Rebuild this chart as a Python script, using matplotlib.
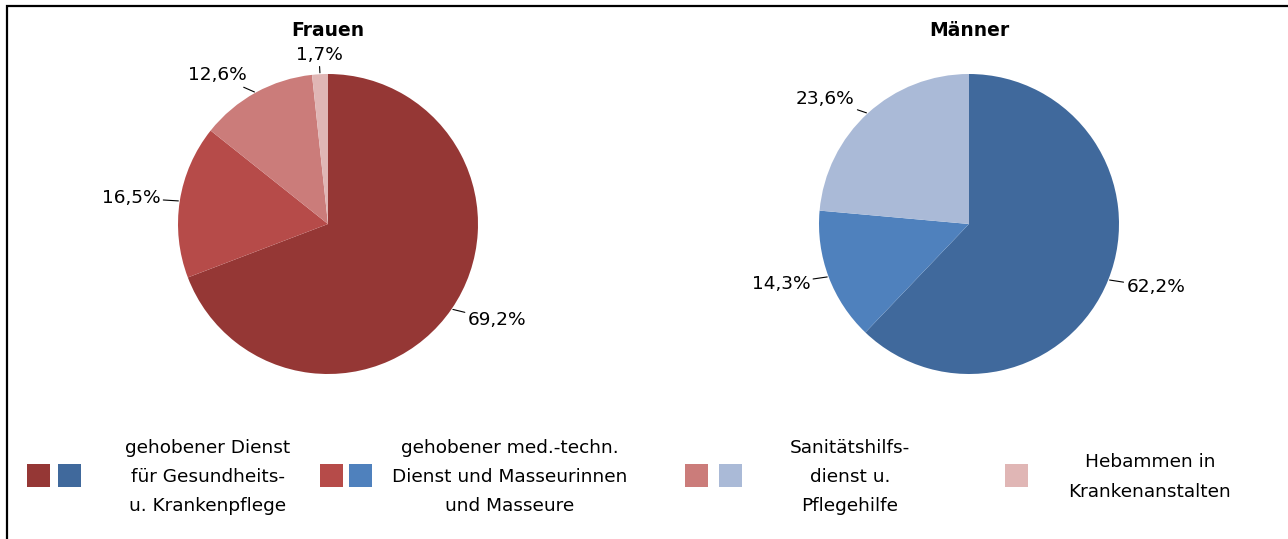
import numpy as np
import matplotlib
matplotlib.use("Agg")
import matplotlib.pyplot as plt
from matplotlib.patches import Rectangle

# ---- data ----
titles = ["Frauen", "Männer"]
frauen_values = [69.2, 16.5, 12.6, 1.7]
maenner_values = [62.2, 14.3, 23.6]
frauen_colors = ["#953735", "#B64B49", "#CB7C7A", "#E0B6B5"]
maenner_colors = ["#40699C", "#4F81BD", "#AABAD7"]
legend_labels = [
    "gehobener Dienst\nfür Gesundheits-\nu. Krankenpflege",
    "gehobener med.-techn.\nDienst und Masseurinnen\nund Masseure",
    "Sanitätshilfs-\ndienst u.\nPflegehilfe",
    "Hebammen in\nKrankenanstalten",
]

W, H = 1288, 539
fig = plt.figure(figsize=(W / 100, H / 100), dpi=100)
fig.patch.set_facecolor("white")

label_font = dict(family=["DejaVu Sans"], fontsize=13.3)
legend_font = dict(family=["DejaVu Sans"], fontsize=13.3)


def make_pie(cx, cy, r, values, colors, title):
    ext = 1.6
    ax = fig.add_axes([(cx - r * ext) / W, 1 - (cy + r * ext) / H, 2 * r * ext / W, 2 * r * ext / H])
    wedges, _ = ax.pie(values, colors=colors, startangle=90, counterclock=False, radius=1,
                       wedgeprops=dict(linewidth=0))
    ax.set_xlim(-ext, ext)
    ax.set_ylim(-ext, ext)
    ax.set_aspect("equal")
    ax.axis("off")
    for w, v in zip(wedges, values):
        ang = np.deg2rad((w.theta1 + w.theta2) / 2)
        c, s = np.cos(ang), np.sin(ang)
        rt = 1.13
        if abs(c) < 0.2:
            ha = "center"
        elif c > 0:
            ha = "left"
        else:
            ha = "right"
        ax.annotate(f"{v:.1f}%".replace(".", ","), xy=(c, s), xytext=(rt * c, rt * s),
                    ha=ha, va="center", annotation_clip=False,
                    arrowprops=dict(arrowstyle="-", color="black", lw=0.8, shrinkA=0, shrinkB=1),
                    **label_font)
    fig.text(cx / W, 1 - 30 / H, title, ha="center", va="center", fontweight="bold",
             family=["DejaVu Sans"], fontsize=13.5)


make_pie(328, 224, 150, frauen_values, frauen_colors, titles[0])
make_pie(969, 224, 150, maenner_values, maenner_colors, titles[1])

# ---- legend (manual) ----
sq_w, sq_h = 23, 23
entries = [
    ([frauen_colors[0], maenner_colors[0]], [27, 58], 208),
    ([frauen_colors[1], maenner_colors[1]], [320, 349], 510),
    ([frauen_colors[2], maenner_colors[2]], [685, 719], 850),
    ([frauen_colors[3]], [1005], 1150),
]
for (cols, xs, tx), lab in zip(entries, legend_labels):
    for col, x in zip(cols, xs):
        fig.add_artist(Rectangle((x / W, 1 - (475 + sq_h / 2) / H), sq_w / W, sq_h / H,
                                 transform=fig.transFigure, facecolor=col, edgecolor="none"))
    fig.text(tx / W, 1 - 477 / H, lab, ha="center", va="center", linespacing=1.82,
             multialignment="center", **legend_font)

# frame
fig.add_artist(Rectangle((7 / W, -0.05), 1.1, 1 - 6 / H + 0.05, transform=fig.transFigure,
                         facecolor="none", edgecolor="black", lw=1.6))

fig.savefig("out.png", dpi=100)
